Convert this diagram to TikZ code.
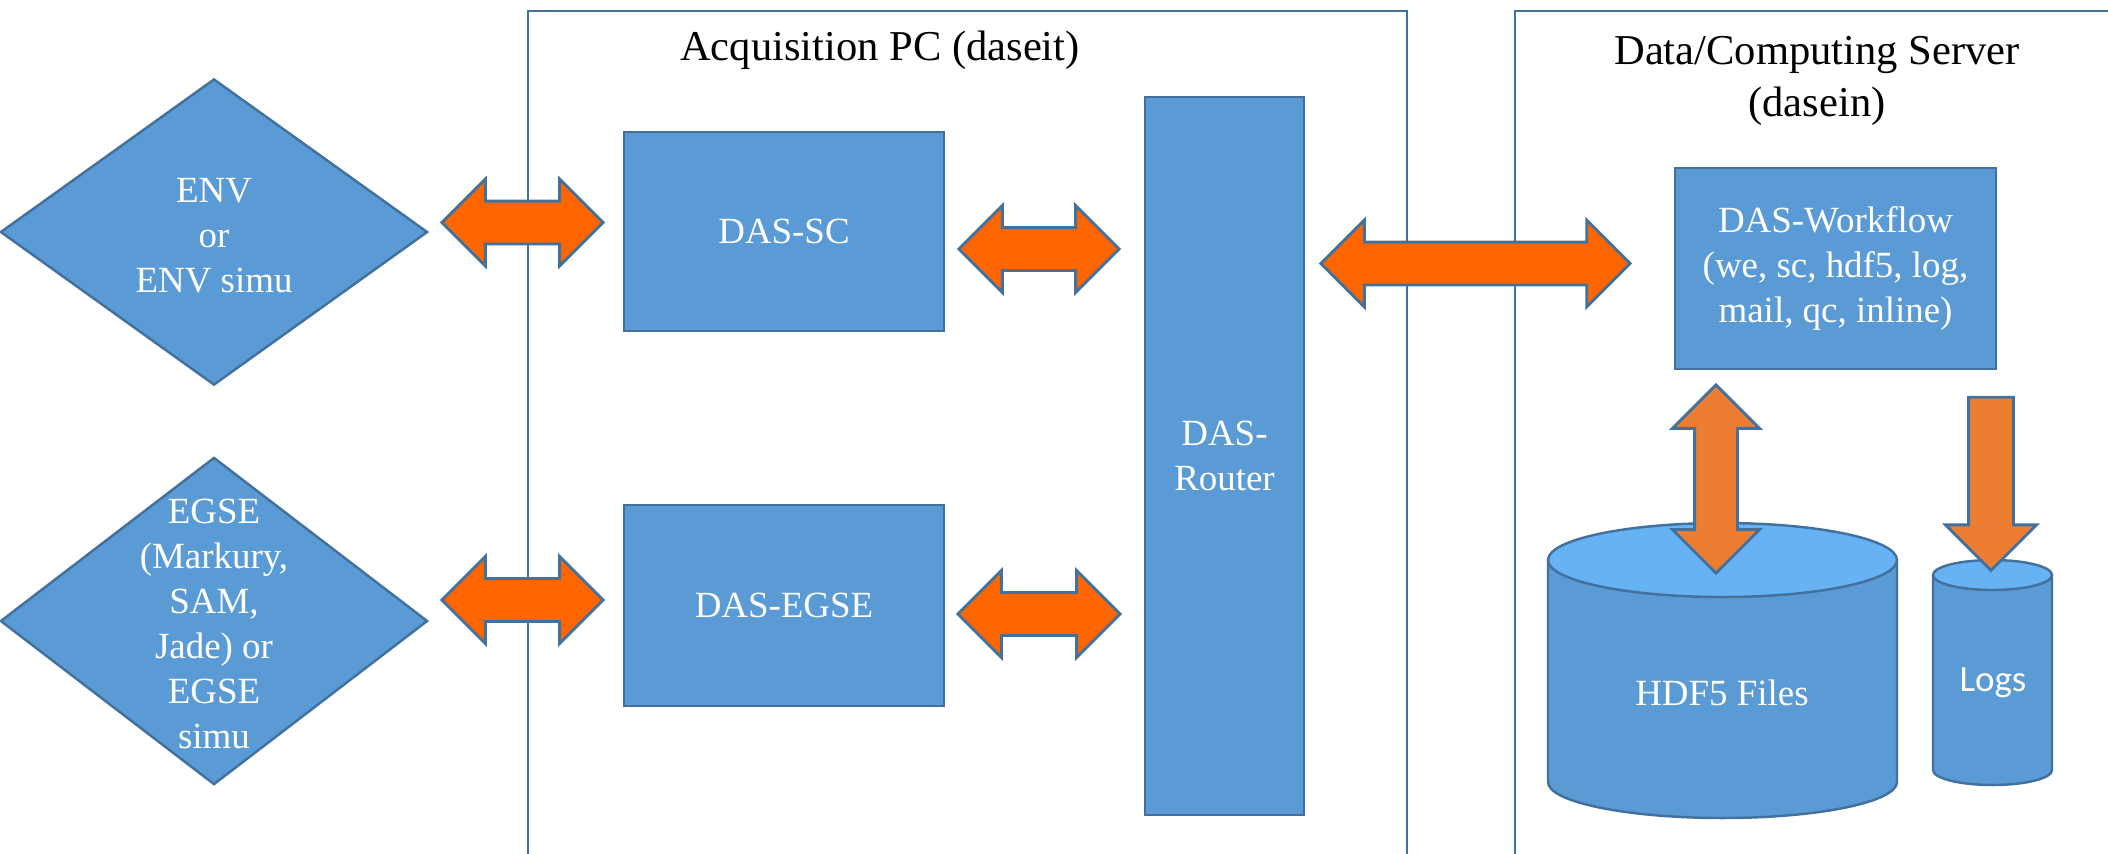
\documentclass[tikz,border=0pt]{standalone}
\usepackage{fontspec}
\setmainfont{Liberation Serif}
\newfontfamily\logsfont{Carlito}
\usetikzlibrary{shapes.geometric,shapes.arrows}
\definecolor{boxblue}{HTML}{5B9BD5}
\definecolor{edgeblue}{HTML}{41719C}
\definecolor{topblue}{HTML}{66B2F2}
\definecolor{linkorange}{HTML}{FF6600}
\definecolor{flowamber}{HTML}{ED7D31}
\begin{document}
\begin{tikzpicture}[x=0.01cm,y=-0.01cm,
    unitbox/.style={draw=edgeblue,fill=boxblue,line width=0.7pt,inner sep=0},
    choicebox/.style={unitbox,diamond},
    boxtext/.style={text=white,align=center,font=\fontsize{10.5}{12.8}\selectfont},
    frametitle/.style={align=center,font=\fontsize{12.1}{14.8}\selectfont},
    hlink/.style={double arrow,draw=edgeblue,fill=linkorange,line width=0.8pt,inner sep=0.2cm,minimum width=0.84cm,double arrow head extend=0.22cm,double arrow tip angle=90}]
  \useasboundingbox (0,0) rectangle (2108,853);
  \draw[edgeblue,line width=0.6pt] (528,870) -- (528,11) -- (1407,11) -- (1407,870);
  \draw[edgeblue,line width=0.6pt] (1515,870) -- (1515,11) -- (2120,11);
  \node[frametitle] (acqtitle) at (880,50) {Acquisition PC (daseit)};
  \node[frametitle] (srvtitle) at (1817,81) {Data/Computing Server\\(dasein)};

  \node[choicebox,minimum width=4.27cm,minimum height=3.06cm] (env) at (214,232) {};
  \node[boxtext] (envtext) at (214,236) {ENV\\or\\ENV simu};
  \node[choicebox,minimum width=4.27cm,minimum height=3.27cm] (egse) at (214,621) {};
  \node[boxtext] (egsetext) at (214,624) {EGSE\\(Markury,\\SAM,\\Jade) or\\EGSE\\simu};

  \node[unitbox,boxtext,minimum width=3.20cm,minimum height=1.99cm] (sc) at (784,231.5) {DAS-SC};
  \node[unitbox,boxtext,minimum width=3.20cm,minimum height=2.01cm] (egsebox) at (784,605.5) {DAS-EGSE};
  \node[unitbox,boxtext,minimum width=1.59cm,minimum height=7.18cm] (router) at (1224.5,456) {DAS-\\Router};
  \node[unitbox,boxtext,minimum width=3.21cm,minimum height=2.01cm] (workflow) at (1835.5,268.5) {DAS-Workflow\\(we, sc, hdf5, log,\\mail, qc, inline)};

  \filldraw[draw=edgeblue,fill=boxblue,line width=0.7pt] (1548,560) -- (1548,782) arc[start angle=180,end angle=0,x radius=174.5,y radius=36] -- (1897,560);
  \filldraw[draw=edgeblue,fill=topblue,line width=0.7pt] (1722.5,560) ellipse[x radius=174.5,y radius=37];
  \node[boxtext] (hdf) at (1722,693) {HDF5 Files};
  \filldraw[draw=edgeblue,fill=boxblue,line width=0.7pt] (1933,575) -- (1933,770) arc[start angle=180,end angle=0,x radius=59.5,y radius=15] -- (2052,575);
  \filldraw[draw=edgeblue,fill=topblue,line width=0.7pt] (1992.5,575) ellipse[x radius=59.5,y radius=15];
  \node[boxtext,font=\logsfont\fontsize{10.5}{12.8}\selectfont] (logs) at (1993,683) {Logs};

  \node[hlink,minimum height=1.61cm] (envlink) at (522.5,222.5) {};
  \node[hlink,minimum height=1.61cm] (egselink) at (522.5,600) {};
  \node[hlink,minimum height=1.60cm] (sclink) at (1039,249) {};
  \node[hlink,minimum height=1.62cm] (egserouterlink) at (1039,614) {};
  \node[hlink,minimum height=3.09cm] (srvlink) at (1475.5,263.5) {};
  \node[hlink,fill=flowamber,shape border rotate=90,minimum height=1.88cm] (hdflink) at (1716,479) {};
  \node[single arrow,draw=edgeblue,fill=flowamber,line width=0.8pt,inner sep=0.21cm,minimum width=0.88cm,single arrow head extend=0.23cm,single arrow tip angle=90,shape border rotate=270,minimum height=1.73cm] (loglink) at (1991,472.5) {};
\end{tikzpicture}
\end{document}
